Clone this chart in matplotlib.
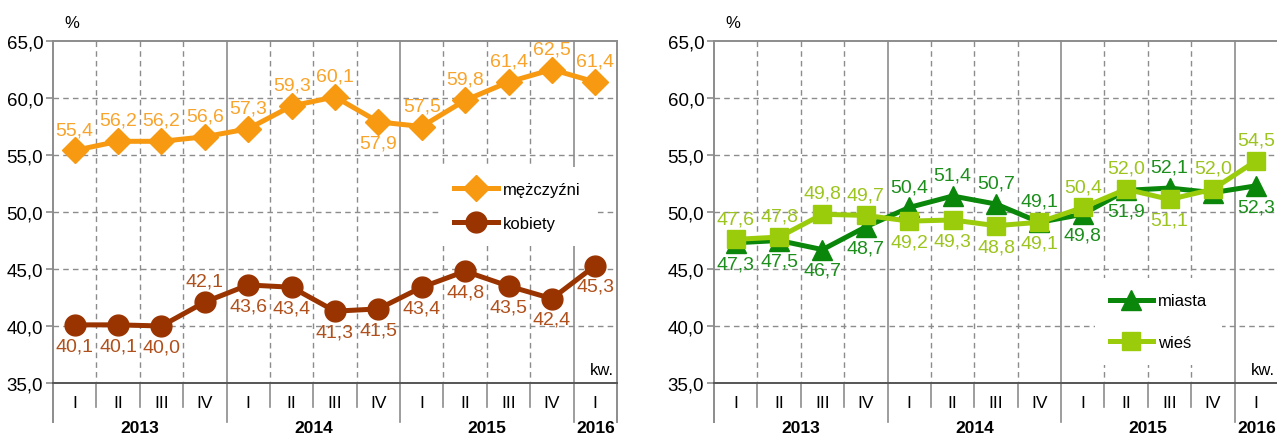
import matplotlib
matplotlib.use("Agg")
import matplotlib.pyplot as plt
import matplotlib.transforms as mtransforms

plt.rcParams['font.family'] = ['Liberation Sans Narrow', 'Liberation Sans', 'DejaVu Sans']

quarters = ['I', 'II', 'III', 'IV', 'I', 'II', 'III', 'IV', 'I', 'II', 'III', 'IV', 'I']
years = ['2013', '2014', '2015', '2016']
year_centers = [1.5, 5.5, 9.5, 12.0]
year_bounds = [3.5, 7.5, 11.5]

men = [55.4, 56.2, 56.2, 56.6, 57.3, 59.3, 60.1, 57.9, 57.5, 59.8, 61.4, 62.5, 61.4]
women = [40.1, 40.1, 40.0, 42.1, 43.6, 43.4, 41.3, 41.5, 43.4, 44.8, 43.5, 42.4, 45.3]
urban = [47.3, 47.5, 46.7, 48.7, 50.4, 51.4, 50.7, 49.1, 49.8, 51.9, 52.1, 51.7, 52.3]
rural = [47.6, 47.8, 49.8, 49.7, 49.2, 49.3, 48.8, 49.1, 50.4, 52.0, 51.1, 52.0, 54.5]

# label side: 1 above, -1 below, 0 no label
men_side = [1, 1, 1, 1, 1, 1, 1, -1, 1, 1, 1, 1, 1]
women_side = [-1, -1, -1, 1, -1, -1, -1, -1, -1, -1, -1, -1, -1]
urban_side = [-1, -1, -1, -1, 1, 1, 1, 1, -1, -1, 1, 0, -1]
rural_side = [1, 1, 1, 1, -1, -1, -1, -1, 1, 1, -1, 1, 1]

yticks = [35, 40, 45, 50, 55, 60, 65]

W, H = 1277, 435
fig = plt.figure(figsize=(W / 100, H / 100), dpi=100)
GRID = '#8c8c8c'


def px_axes(x0, x1, ytop, ybot):
    return fig.add_axes([x0 / W, (H - ybot) / H, (x1 - x0) / W, (ybot - ytop) / H])


def setup(ax):
    ax.set_xlim(-0.5, 12.5)
    ax.set_ylim(35, 65)
    ax.set_yticks(yticks)
    ax.set_yticklabels([f"{v:.1f}".replace('.', ',') for v in yticks], fontsize=13.5)
    ax.set_xticks(range(13))
    ax.set_xticklabels(quarters, fontsize=12.5)
    ax.tick_params(axis='x', length=0, pad=9)
    ax.tick_params(axis='y', length=5, color=GRID, width=1.2, pad=2)
    for s in ax.spines.values():
        s.set_color(GRID)
        s.set_linewidth(1.4)
    ax.spines['bottom'].set_color('#555555')
    for v in yticks[1:-1]:
        ax.axhline(v, color=GRID, lw=1, ls=(0, (4, 3)), zorder=1)
    tr = mtransforms.blended_transform_factory(ax.transData, ax.transAxes)
    for i in range(12):
        b = i + 0.5
        if b in year_bounds:
            ax.plot([b, b], [1, -0.115], color=GRID, lw=1.2, transform=tr, clip_on=False, zorder=1)
        else:
            ax.plot([b, b], [1, 0], color=GRID, lw=1, ls=(0, (4, 3)), transform=tr, zorder=1)
            ax.plot([b, b], [0, -0.07], color=GRID, lw=1.2, transform=tr, clip_on=False, zorder=1)
    ax.plot([-0.5, -0.5], [0, -0.115], color=GRID, lw=1.4, transform=tr, clip_on=False)
    ax.plot([12.5, 12.5], [0, -0.115], color=GRID, lw=1.4, transform=tr, clip_on=False)
    for y, c in zip(years, year_centers):
        ax.text(c, -0.13, y, transform=tr, ha='center', va='center', fontsize=12.5,
                fontweight='bold', family='Liberation Sans')
    ax.text(12.42, 36.2, 'kw.', ha='right', va='center', fontsize=12)
    ax.text(0.02, 1.055, '%', transform=ax.transAxes, ha='left', va='center', fontsize=12)


def labels(ax, vals, sides, color):
    for i, (v, s) in enumerate(zip(vals, sides)):
        if s == 0:
            continue
        ax.annotate(f"{v:.1f}".replace('.', ','), (i, v), xytext=(0, 15 * s),
                    textcoords='offset points', ha='center', va='center',
                    fontsize=14, color=color, zorder=5)


x = list(range(13))

# left chart
ax1 = px_axes(53, 617, 42, 384)
setup(ax1)
ax1.plot(x, men, color='#F79A12', lw=3.6, marker='D', ms=13, label='mężczyźni', zorder=3)
ax1.plot(x, women, color='#993300', lw=3.6, marker='o', ms=15, label='kobiety', zorder=3)
labels(ax1, men, men_side, '#F8A42C')
labels(ax1, women, women_side, '#B0501C')
leg1 = ax1.legend(loc='upper left', bbox_to_anchor=(0.67, 0.655), fontsize=12,
                  frameon=True, facecolor='white', edgecolor='none', framealpha=1,
                  handlelength=2.6, labelspacing=1.1, borderpad=0.9, handletextpad=0.3,
                  fancybox=False)
leg1.set_zorder(4)

# right chart
ax2 = px_axes(714, 1278, 42, 384)
setup(ax2)
ax2.plot(x, urban, color='#0A860A', lw=3.6, marker='^', ms=14, label='miasta', zorder=3)
ax2.plot(x, rural, color='#9ACC0C', lw=3.6, marker='s', ms=12.5, label='wieś', zorder=3.5)
labels(ax2, urban, urban_side, '#1C8E1C')
labels(ax2, rural, rural_side, '#9CC41E')
leg2 = ax2.legend(loc='upper left', bbox_to_anchor=(0.66, 0.33), fontsize=12,
                  frameon=True, facecolor='white', edgecolor='none', framealpha=1,
                  handlelength=2.6, labelspacing=1.6, borderpad=0.9, handletextpad=0.3,
                  fancybox=False)
leg2.set_zorder(4)

fig.savefig('out.png', dpi=100)
